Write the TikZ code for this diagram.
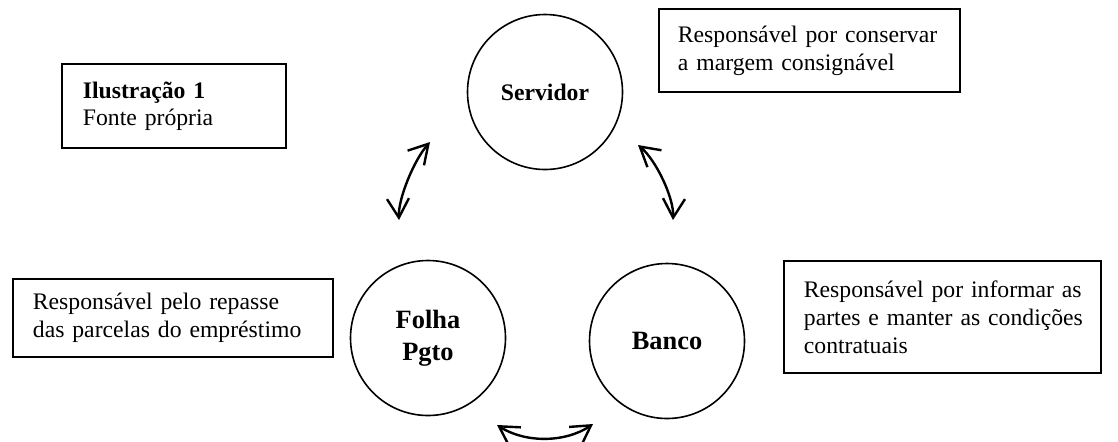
\documentclass[tikz,border=0pt]{standalone}
\usepackage{fontspec}
\setmainfont{Liberation Serif}
\usetikzlibrary{arrows.meta}
\begin{document}
\begin{tikzpicture}[x=0.5pt,y=-0.5pt,
  role/.style={draw, line width=0.8pt, circle, minimum size=77.5pt, inner sep=0pt, align=center},
  rolefont/.style={font=\bfseries\fontsize{13.2}{16}\selectfont},
  note/.style={draw, line width=0.9pt, anchor=north west, align=left, inner ysep=0pt,
    font=\fontsize{11.85}{14}\selectfont},
  barb/.tip={Straight Barb[length=9.5pt,width=11pt]},
  link/.style={line width=1.2pt, line cap=round, barb-barb}
]
\useasboundingbox (0,0) rectangle (1118,441);

% the three parties
\node[role, font=\bfseries\fontsize{11.85}{14}\selectfont] (serv) at (545,92) {Servidor};
\node[role, rolefont] (folha) at (428,338) {Folha\\Pgto};
\node[role, rolefont] (banco) at (667,341) {Banco};

% notes
\node[note, minimum width=150.5pt, minimum height=41.5pt, inner xsep=9.5pt, text width=131.5pt]
  (cons) at (658,8) {\mbox{Responsável por conservar}\\\mbox{a margem consignável}};
\node[note, minimum width=112pt, minimum height=42pt, inner xsep=10.5pt, text width=91pt,
  font=\fontsize{11.85}{13.5}\selectfont]
  (ilus) at (61,63) {\textbf{Ilustração 1}\\Fonte própria};
\node[note, minimum width=160pt, minimum height=39pt, inner xsep=10pt, text width=140pt]
  (rep) at (12,278) {\mbox{Responsável pelo repasse}\\\mbox{das parcelas do empréstimo}};
\node[note, minimum width=158.5pt, minimum height=56pt, inner xsep=10pt, text width=138.5pt]
  (info) at (783,260) {\mbox{Responsável por informar as}\\\mbox{partes e manter as condições}\\\mbox{contratuais}};

% two-way relations
\coordinate (sf1) at (430,142);
\coordinate (sf2) at (399,220);
\coordinate (sb1) at (638,145);
\coordinate (sb2) at (673,220);
\coordinate (fb1) at (497,425);
\coordinate (fb2) at (593,424);
\draw[link] (sf1) .. controls (414,160) and (398,199) .. (sf2);
\draw[link] (sb1) .. controls (656,160) and (674,198) .. (sb2);
\draw[link] (fb1) .. controls (525,443) and (565,443) .. (fb2);
\end{tikzpicture}
\end{document}
